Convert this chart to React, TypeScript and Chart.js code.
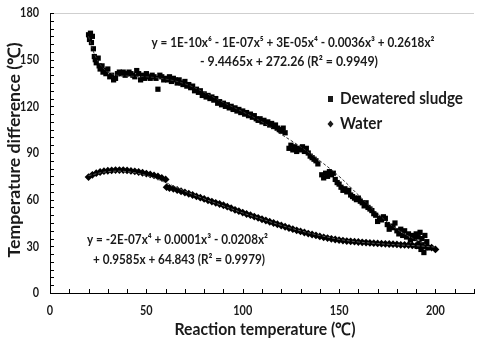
import React, { useEffect, useRef } from "react";
import { Chart, registerables } from "chart.js";

Chart.register(...registerables);

// ---- Data ----
const sludgeX = [
  20, 20.5, 21, 21.5, 22, 22.5, 23, 23.5, 24, 25, 25.5, 26, 27, 27.5, 28, 29, 30, 31, 32, 33, 34, 35,
  36, 37, 38, 39, 40, 41, 42, 43, 44, 45, 46, 47, 48, 49, 50, 51, 52, 53, 54, 55, 56, 57, 58, 59, 60,
  61, 62, 63, 64, 65, 66, 67, 68, 69, 70, 71, 72, 73, 74, 75, 76, 77, 78, 79, 80,
  81, 82, 83, 84, 85, 86, 87, 88, 89, 90, 91, 92, 93, 94, 95, 96, 97, 98, 99, 100,
  101, 102, 103, 104, 105, 106, 107, 108, 109, 110, 111, 112, 113, 114, 115, 116, 117, 118, 119, 120, 121, 122,
  124, 125, 126, 127, 128, 129, 130, 131, 132, 133, 134, 135, 136, 137, 138, 139,
  141, 142, 143, 144, 145, 146, 147, 148, 149, 150, 151, 152, 153, 154, 155, 156, 157, 158, 159, 160,
  161, 162, 163, 164, 165, 166, 167, 168, 169, 170, 171, 172, 173, 174, 175, 176, 177, 178, 179, 180,
  181, 182, 183, 184, 185, 186, 187, 188, 189, 190, 190.5, 191, 191.5, 192, 192.5, 193, 193.5, 194, 194.5, 195, 195.5, 196,
];
const sludgeY = [
  166, 163, 167, 161, 165, 157, 152, 150, 148, 151, 146, 144, 146, 142, 143, 141, 144, 139, 140, 137, 138, 141,
  142, 141, 142, 140, 141, 142, 141, 140, 139, 143, 141, 137, 140, 138, 141, 139, 138, 140, 139, 138, 131, 140, 139, 137, 138,
  137, 139, 136, 138, 137, 135, 137, 135, 134, 136, 133, 134, 132, 133, 130, 131, 129, 130, 127, 128,
  126, 127, 125, 126, 124, 125, 122, 123, 121, 122, 120, 121, 119, 120, 118, 119, 117, 118, 116, 117,
  115, 116, 114, 115, 113, 114, 112, 111, 112, 110, 111, 109, 110, 108, 109, 107, 108, 106, 105, 104, 106, 103,
  93, 95, 92, 94, 91, 93, 92, 94, 91, 93, 90, 88, 87, 86, 85, 83,
  76, 74, 77, 75, 78, 76, 77, 73, 71, 70, 68, 66, 67, 65, 66, 63, 62, 61, 60, 61,
  59, 58, 56, 58, 55, 54, 53, 51, 50, 46, 48, 47, 49, 48, 44, 41, 43, 42, 45, 40,
  38, 41, 37, 40, 36, 38, 34, 37, 35, 38, 30, 36, 32, 39, 28, 35, 31, 26, 37, 30, 33, 29,
];

const waterX = [
  20, 22, 24, 26, 28, 30, 32, 34, 36, 38, 40, 42, 44, 46, 48, 50, 52, 54, 56, 58, 60,
  60.5, 62, 64, 66, 68, 70, 72, 74, 76, 78, 80, 82, 84, 86, 88, 90, 92, 94, 96, 98, 100,
  102, 104, 106, 108, 110, 112, 114, 116, 118, 120, 122, 124, 126, 128, 130, 132, 134, 136, 138, 140,
  142, 144, 146, 148, 150, 152, 154, 156, 158, 160, 162, 164, 166, 168, 170, 172, 174, 176, 178, 180,
  182, 184, 186, 188, 190, 192, 194, 196, 198, 200,
];
const waterY = [
  74.5, 76, 77, 77.8, 78.3, 78.6, 78.8, 79, 79, 79, 78.8, 78.5, 78.2, 77.8, 77.3, 76.8, 76.2, 75.6, 74.9, 74, 73,
  68, 67.5, 67, 66.2, 65.4, 64.6, 63.8, 63, 62.1, 61.3, 60.5, 59.6, 58.8, 58, 57.2, 56.4, 55.5, 54.5, 53.5, 52.6, 51.7,
  50.8, 50, 49.1, 48.3, 47.4, 46.6, 45.8, 45, 44.2, 43.4, 42.6, 41.8, 41, 40.3, 39.6, 38.9, 38.2, 37.6, 37, 36.4,
  35.8, 35.3, 34.8, 34.4, 34, 33.7, 33.4, 33.2, 33, 32.8, 32.6, 32.4, 32.2, 32, 31.9, 31.7, 31.6, 31.5, 31.4, 31.2,
  31, 30.9, 30.8, 30.6, 30.5, 30.3, 30.1, 29.8, 29.2, 28,
];

const sludgeTrendX = [20, 22, 24, 26, 28, 30, 35, 40, 50, 60, 70, 80, 90, 100, 110, 120, 130, 140, 150, 160, 170, 180, 190, 195];
const sludgeTrendY = [165, 157, 151, 147, 144, 142, 140, 139.5, 139, 137.5, 134.5, 129, 122.5, 116.5, 110, 102, 94, 85, 75, 63, 51, 41, 34, 31];

const waterTrendX = [20, 30, 40, 50, 60, 70, 80, 90, 100, 110, 120, 130, 140, 150, 160, 170, 180, 190, 200];
const waterTrendY = [75.5, 78, 78, 75.5, 71, 65.5, 60.5, 56, 51.5, 47.5, 43.5, 40, 37, 34.5, 32.8, 31.8, 31, 30.4, 29.5];

const xTickValues = [0, 50, 100, 150, 200];
const yTickValues = [0, 30, 60, 90, 120, 150, 180];

const seriesNames = ["Dewatered sludge", "Water"];
const xTitle = "Reaction temperature (℃)";
const yTitle = "Temperature difference (℃)";
const eqSludge = [
  "y = 1E-10x⁶ - 1E-07x⁵ + 3E-05x⁴ - 0.0036x³ + 0.2618x²",
  "- 9.4465x + 272.26 (R² = 0.9949)",
];
const eqWater = [
  "y = -2E-07x⁴ + 0.0001x³ - 0.0208x²",
  "+ 0.9585x + 64.843 (R² = 0.9979)",
];

const pts = (xs: number[], ys: number[]) => xs.map((x, i) => ({ x, y: ys[i] }));

const FONT = "Lato, 'Open Sans', sans-serif";
const TXT = "#1a1a1a";

// draw text horizontally condensed to a target width
function fitText(ctx: any, text: string, x: number, y: number, targetW: number, align: "left" | "center" | "right") {
  const w = ctx.measureText(text).width;
  const s = Math.min(1.2, targetW / w);
  ctx.save();
  ctx.translate(x, y);
  ctx.scale(s, 1);
  ctx.textAlign = align;
  ctx.fillText(text, 0, 0);
  ctx.restore();
}

const decorPlugin = {
  id: "decor",
  afterDraw(chart: any) {
    const { ctx, chartArea, scales } = chart;
    const xs = scales.x;
    const ys = scales.y;
    ctx.save();
    // top border
    ctx.strokeStyle = "#cfcfcf";
    ctx.lineWidth = 1;
    ctx.beginPath();
    ctx.moveTo(chartArea.left, chartArea.top + 0.5);
    ctx.lineTo(chartArea.right, chartArea.top + 0.5);
    ctx.stroke();
    // inside ticks
    ctx.strokeStyle = "#000";
    ctx.beginPath();
    for (let v = 0; v <= 220; v += 10) {
      const px = Math.round(xs.getPixelForValue(v)) + 0.5;
      ctx.moveTo(px, chartArea.bottom);
      ctx.lineTo(px, chartArea.bottom - 4);
    }
    for (let v = 0; v <= 180; v += 5) {
      const py = Math.round(ys.getPixelForValue(v)) + 0.5;
      ctx.moveTo(chartArea.left, py);
      ctx.lineTo(chartArea.left + 4, py);
    }
    ctx.stroke();

    ctx.fillStyle = TXT;
    ctx.textBaseline = "middle";

    // tick labels
    ctx.font = `bold 13px ${FONT}`;
    const digitW = ctx.measureText("0").width;
    const tickScale = 6.3 / digitW;
    for (const v of yTickValues) {
      const t = String(v);
      fitText(ctx, t, chartArea.left - 11, ys.getPixelForValue(v), ctx.measureText(t).width * tickScale, "right");
    }
    for (const v of xTickValues) {
      const t = String(v);
      fitText(ctx, t, xs.getPixelForValue(v), chartArea.bottom + 18, ctx.measureText(t).width * tickScale, "center");
    }

    // axis titles
    ctx.font = `bold 17px ${FONT}`;
    fitText(ctx, xTitle, 265, 330, 181, "center");
    ctx.save();
    ctx.translate(15, 150);
    ctx.rotate(-Math.PI / 2);
    fitText(ctx, yTitle, 0, 0, 215, "center");
    ctx.restore();

    // equations
    ctx.font = `bold 13px ${FONT}`;
    fitText(ctx, eqSludge[0], 293, 43, 283, "center");
    fitText(ctx, eqSludge[1], 289, 62, 178, "center");
    fitText(ctx, eqWater[0], 177.5, 240, 181, "center");
    fitText(ctx, eqWater[1], 179, 260, 172, "center");

    // legend
    ctx.font = `bold 17px ${FONT}`;
    ctx.fillRect(328, 96, 5, 6);
    fitText(ctx, seriesNames[0], 340, 99, 123, "left");
    ctx.beginPath();
    ctx.moveTo(330.5, 120.5);
    ctx.lineTo(333.5, 124);
    ctx.lineTo(330.5, 127.5);
    ctx.lineTo(327.5, 124);
    ctx.closePath();
    ctx.fill();
    const ws = ctx.measureText(seriesNames[0]).width;
    const legScale = 123 / ws;
    fitText(ctx, seriesNames[1], 340, 124, ctx.measureText(seriesNames[1]).width * legScale, "left");
    ctx.restore();
  },
};

export default function App() {
  const ref = useRef<HTMLCanvasElement | null>(null);
  useEffect(() => {
    if (!ref.current) return;
    const chart = new Chart(ref.current, {
      type: "scatter",
      data: {
        datasets: [
          {
            label: "sludge trend",
            data: pts(sludgeTrendX, sludgeTrendY),
            showLine: true,
            borderColor: "#333",
            borderWidth: 1,
            borderDash: [3, 2],
            pointRadius: 0,
            tension: 0.4,
          },
          {
            label: "water trend",
            data: pts(waterTrendX, waterTrendY),
            showLine: true,
            borderColor: "#555",
            borderWidth: 1,
            borderDash: [3, 2],
            pointRadius: 0,
            tension: 0.4,
          },
          {
            label: seriesNames[0],
            data: pts(sludgeX, sludgeY),
            pointStyle: "rect",
            pointRadius: 3.7,
            backgroundColor: "#000",
            borderColor: "#000",
            borderWidth: 0,
          },
          {
            label: seriesNames[1],
            data: pts(waterX, waterY),
            pointStyle: "rectRot",
            pointRadius: 3.9,
            backgroundColor: "#000",
            borderColor: "#000",
            borderWidth: 0,
          },
        ],
      },
      options: {
        animation: false,
        responsive: false,
        layout: { padding: { top: 13, right: 0, left: 0, bottom: 0 } },
        plugins: { legend: { display: false }, tooltip: { enabled: false } },
        scales: {
          x: {
            type: "linear",
            min: 0,
            max: 220,
            grid: { display: false },
            border: { display: true, color: "#000", width: 1 },
            afterBuildTicks: (s: any) => {
              s.ticks = xTickValues.map((v) => ({ value: v }));
            },
            afterFit: (s: any) => {
              s.height = 48;
            },
            ticks: { display: false },
          },
          y: {
            type: "linear",
            min: 0,
            max: 180,
            grid: { display: false },
            border: { display: true, color: "#000", width: 1 },
            afterBuildTicks: (s: any) => {
              s.ticks = yTickValues.map((v) => ({ value: v }));
            },
            afterFit: (s: any) => {
              s.width = 50;
            },
            ticks: { display: false },
          },
        },
      },
      plugins: [decorPlugin],
    } as any);
    return () => chart.destroy();
  }, []);
  return (
    <div style={{ position: "fixed", left: 0, top: 0, width: 478, height: 341, background: "#fff" }}>
      <canvas ref={ref} width={478} height={341} />
    </div>
  );
}
